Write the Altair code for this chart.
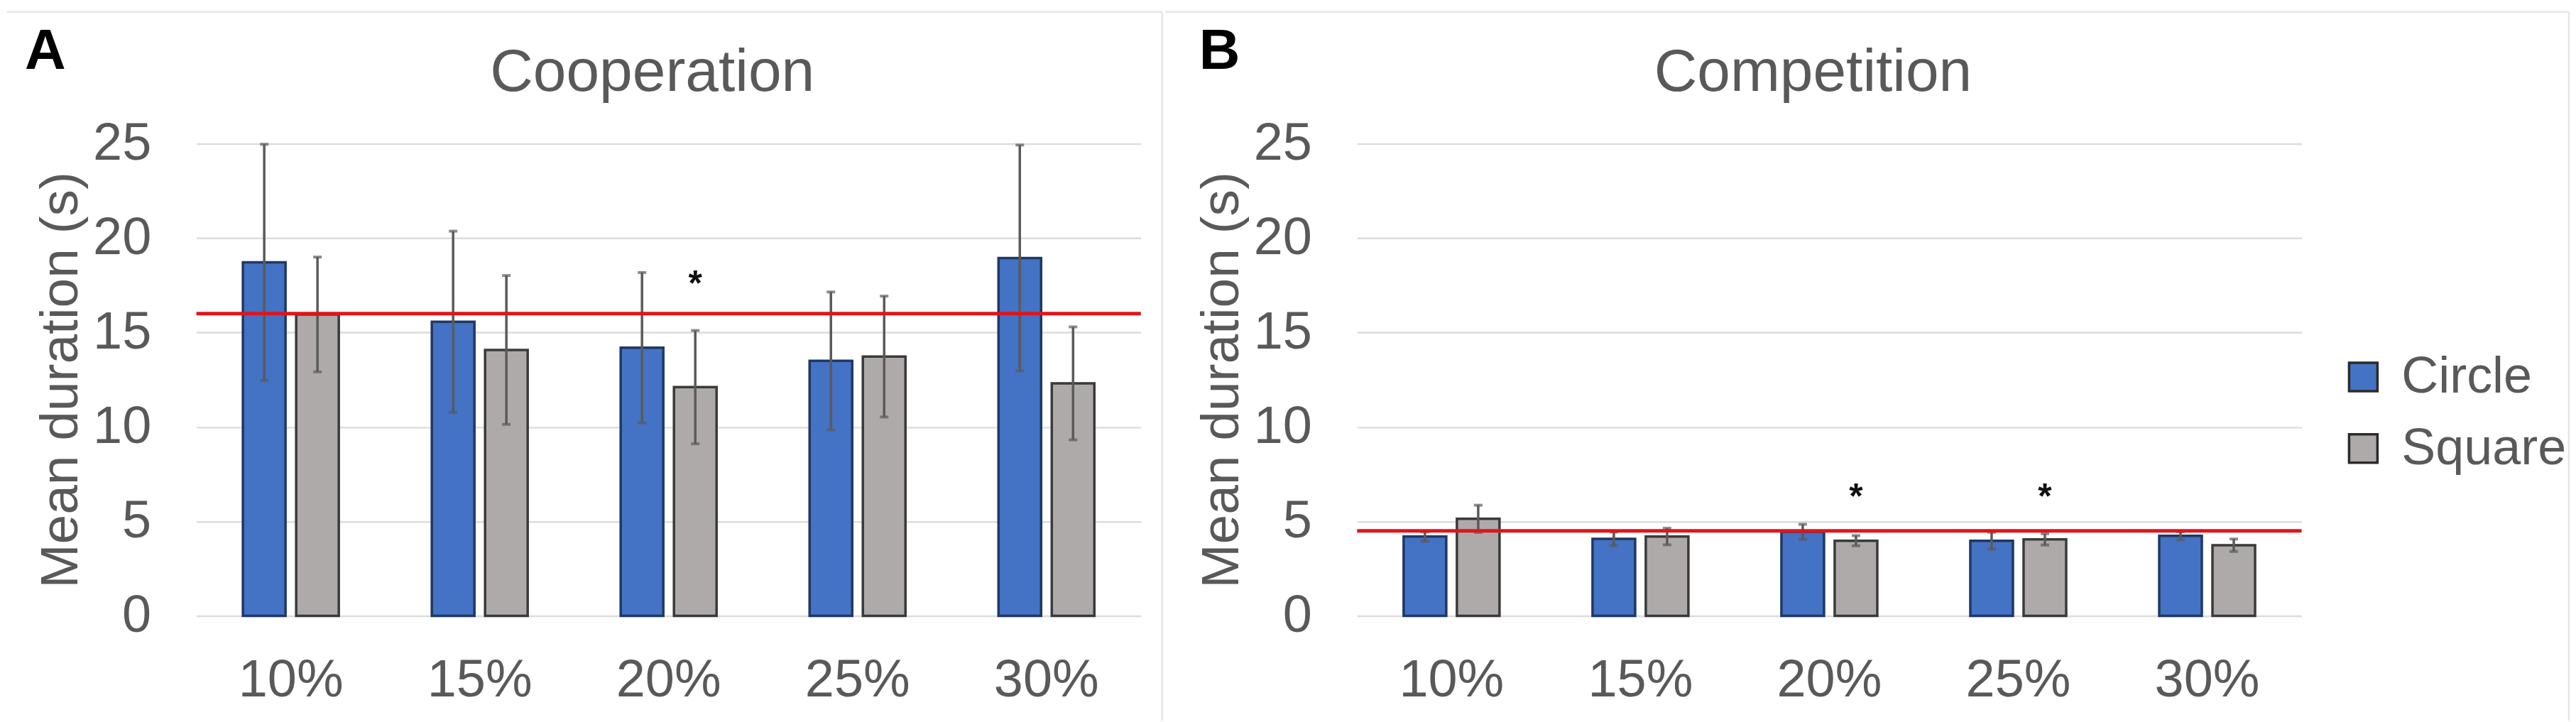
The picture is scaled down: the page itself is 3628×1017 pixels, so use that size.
import altair as alt
import pandas as pd

# ---------------- data ----------------
categories = ["10%", "15%", "20%", "25%", "30%"]
shapes = ["Circle", "Square"]

coop_circle_mean = [18.72, 15.57, 14.20, 13.50, 18.95]
coop_circle_err = [6.25, 4.80, 3.98, 3.65, 5.98]
coop_square_mean = [15.96, 14.08, 12.11, 13.73, 12.31]
coop_square_err = [3.04, 3.94, 3.00, 3.20, 2.99]
coop_reference = [16.0]
coop_star_cat = ["20%"]
coop_star_shape = ["Square"]
coop_star_y = [17.97]

comp_circle_mean = [4.20, 4.08, 4.45, 3.98, 4.24]
comp_circle_err = [0.25, 0.36, 0.40, 0.45, 0.22]
comp_square_mean = [5.14, 4.20, 3.98, 4.05, 3.74]
comp_square_err = [0.72, 0.44, 0.27, 0.30, 0.33]
comp_reference = [4.5]
comp_star_cat = ["20%", "25%"]
comp_star_shape = ["Square", "Square"]
comp_star_y = [6.7, 6.7]

y_ticks = [0, 5, 10, 15, 20, 25]

FONT = "Liberation Sans"
TXT = "#595959"
FRAME = "#E6E6E6"
W, H = 1332, 666


def make_df(cm, ce, sm, se):
    rows = []
    for i, c in enumerate(categories):
        rows.append(dict(cat=c, shape="Circle", mean=cm[i], lo=cm[i] - ce[i], hi=cm[i] + ce[i]))
        rows.append(dict(cat=c, shape="Square", mean=sm[i], lo=sm[i] - se[i], hi=sm[i] + se[i]))
    return pd.DataFrame(rows)


def panel(df, ref, star_cat, star_shape, star_y, title, letter, show_legend, frame):
    ytitle = "Mean duration (s)"
    x = alt.X(
        "cat:N",
        sort=categories,
        scale=alt.Scale(paddingInner=0.4925, paddingOuter=0.2462),
        axis=alt.Axis(
            title=None, labelAngle=0, labelFontSize=74, labelColor=TXT,
            labelPadding=55, ticks=False, tickSize=0, domain=False, grid=False,
        ),
    )
    xo = alt.XOffset("shape:N", sort=shapes, scale=alt.Scale(paddingInner=0.2, paddingOuter=0))
    yscale = alt.Scale(domain=[0, 25], nice=False)
    yaxis = alt.Axis(
        values=y_ticks, title=ytitle, titleFontSize=75, titleColor=TXT,
        titleFontWeight="normal", titlePadding=6,
        labelFontSize=74, labelColor=TXT, labelPadding=64,
        ticks=False, tickSize=0, domain=False,
        grid=True, gridColor="#DCDCDC", gridWidth=2.5,
    )
    if show_legend:
        legend = alt.Legend(
            title=None, orient="none", legendX=1383, legendY=293,
            labelFontSize=72, labelColor=TXT, labelFont=FONT, labelLimit=0,
            symbolType="square", symbolSize=1600, symbolStrokeWidth=3.5,
            symbolStrokeColor="#2B2B2B", labelOffset=18, rowPadding=29, padding=0,
        )
    else:
        legend = None

    bars = alt.Chart(df).mark_bar(strokeWidth=3.5).encode(
        x=x,
        xOffset=xo,
        y=alt.Y("mean:Q", scale=yscale, axis=yaxis, title=ytitle),
        color=alt.Color("shape:N", sort=shapes,
                        scale=alt.Scale(domain=shapes, range=["#4472C4", "#AEAAAA"]),
                        legend=legend),
        stroke=alt.Stroke("shape:N", sort=shapes,
                          scale=alt.Scale(domain=shapes, range=["#1F3864", "#3A3A3A"]),
                          legend=None),
    )
    err = alt.Chart(df).mark_rule(color="#5A5A5A", strokeWidth=3.5).encode(
        x=alt.X("cat:N", sort=categories),
        xOffset=alt.XOffset("shape:N", sort=shapes),
        y=alt.Y("lo:Q", title=ytitle),
        y2="hi:Q",
    )
    cap_lo = alt.Chart(df).mark_tick(color="#5A5A5A", size=12, thickness=4).encode(
        x=alt.X("cat:N", sort=categories),
        xOffset=alt.XOffset("shape:N", sort=shapes),
        y=alt.Y("lo:Q", title=ytitle),
    )
    cap_hi = alt.Chart(df).mark_tick(color="#5A5A5A", size=12, thickness=4).encode(
        x=alt.X("cat:N", sort=categories),
        xOffset=alt.XOffset("shape:N", sort=shapes),
        y=alt.Y("hi:Q", title=ytitle),
    )
    refline = alt.Chart(pd.DataFrame({"ref": ref})).mark_rule(
        color="#E0141B", strokeWidth=5
    ).encode(y=alt.Y("ref:Q", title=ytitle))
    stars = alt.Chart(pd.DataFrame({"cat": star_cat, "shape": star_shape, "sy": star_y})).mark_text(
        text="*", fontSize=50, fontWeight="bold", color="#111111", font=FONT,
        baseline="middle", dy=12,
    ).encode(
        x=alt.X("cat:N", sort=categories),
        xOffset=alt.XOffset("shape:N", sort=shapes),
        y=alt.Y("sy:Q", title=ytitle),
    )
    letter_mark = alt.Chart(pd.DataFrame({"t": [letter]})).mark_text(
        fontSize=80, fontWeight="bold", color="#000000", font=FONT,
        align="left", baseline="alphabetic",
    ).encode(
        text="t:N",
        x=alt.value(-242 if letter == "A" else -223),
        y=alt.value(-106),
    )
    title_mark = alt.Chart(pd.DataFrame({"t": [title]})).mark_text(
        fontSize=84, color=TXT, font=FONT, align="center", baseline="alphabetic",
    ).encode(
        text="t:N",
        x=alt.value(W / 2 - 23),
        y=alt.value(-75),
    )
    # light chart-area frame (top edge and right edge)
    fx0, fx1 = frame
    frame_top = alt.Chart(pd.DataFrame({"f": [0]})).mark_rule(color=FRAME, strokeWidth=2.5).encode(
        x=alt.value(fx0), x2=alt.value(fx1), y=alt.value(-186)
    )
    frame_right = alt.Chart(pd.DataFrame({"f": [0]})).mark_rule(color=FRAME, strokeWidth=2.5).encode(
        x=alt.value(fx1), y=alt.value(-186), y2=alt.value(814)
    )
    return alt.layer(
        frame_top, frame_right, bars, err, cap_lo, cap_hi, refline, stars, letter_mark, title_mark
    ).properties(width=W, height=H)


coop_df = make_df(coop_circle_mean, coop_circle_err, coop_square_mean, coop_square_err)
comp_df = make_df(comp_circle_mean, comp_circle_err, comp_square_mean, comp_square_err)

pA = panel(coop_df, coop_reference, coop_star_cat, coop_star_shape, coop_star_y,
           "Cooperation", "A", False, (-267, 1362))
pB = panel(comp_df, comp_reference, comp_star_cat, comp_star_shape, comp_star_y,
           "Competition", "B", True, (-271, 1709))

chart = alt.hconcat(pA, pB, spacing=0).resolve_legend(color="independent").properties(
    padding={"left": 0, "top": 6, "right": 0, "bottom": 0},
    background="white",
).configure_view(stroke=None).configure_axis(
    labelFont=FONT, titleFont=FONT
).configure_title(font=FONT)

chart.save("out.html", embed_options={"renderer": "svg", "actions": False})
